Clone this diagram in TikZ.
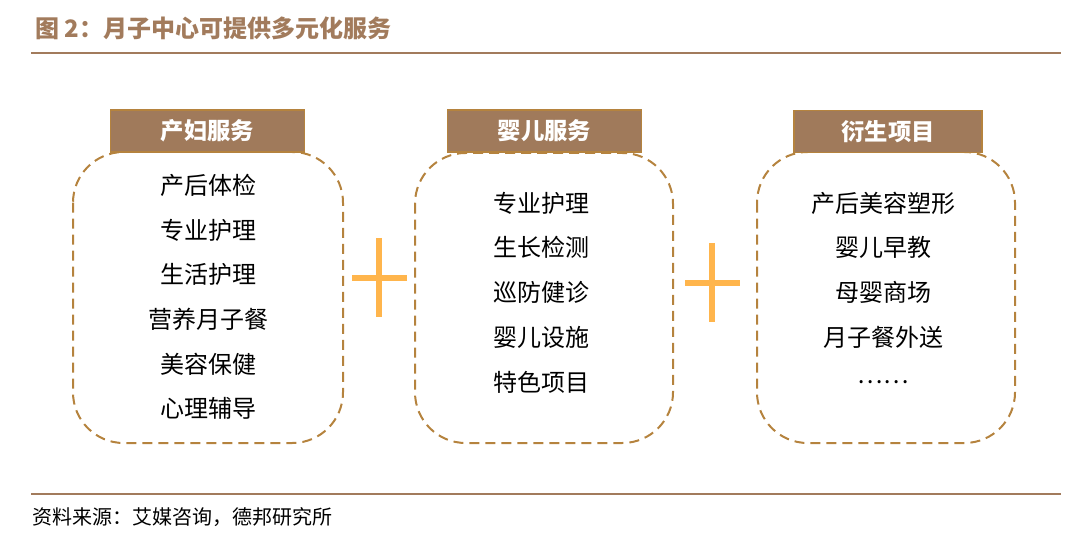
\documentclass[tikz,border=0pt]{standalone}
\usepackage{fontspec}
\setmainfont{Noto Sans CJK SC}
\newfontfamily\cjk{Noto Sans CJK SC}
\definecolor{brownline}{HTML}{A27B5C}
\definecolor{headfill}{HTML}{A07A5B}
\definecolor{dashcol}{HTML}{B5833E}
\definecolor{pluscol}{HTML}{FFB54C}
\begin{document}
\begin{tikzpicture}[x=0.75pt,y=-0.75pt,
  rule/.style={draw=brownline,line width=1.6pt},
  panel/.style={draw=dashcol,line width=1.5pt,dash pattern=on 7.5pt off 4.5pt,rounded corners=38pt},
  header/.style={fill=headfill,draw=dashcol,line width=0.8pt,minimum height=31.5pt,text=white,font=\cjk\bfseries\fontsize{17.5}{20}\selectfont,inner sep=0pt},
  item/.style={font=\cjk\fontsize{18}{20}\selectfont,text=black,inner sep=0pt},
  plusbar/.style={draw=pluscol,line width=4.8pt}]
\useasboundingbox (0,0) rectangle (1081,541);
\node[anchor=west,text=brownline,font=\cjk\bfseries\fontsize{18}{20}\selectfont,inner sep=0pt] (title) at (35,28) {图 2：月子中心可提供多元化服务};
\draw[rule] (31,53) coordinate (r1a) -- (1061,53) coordinate (r1b);
\draw[rule] (31,494) coordinate (r2a) -- (1061,494) coordinate (r2b);
\node[anchor=west,font=\cjk\fontsize{15}{17}\selectfont,inner sep=0pt] (src) at (32,517) {资料来源：艾媒咨询，德邦研究所};
% panels
\draw[panel] (73,152) rectangle (343,443);
\draw[panel] (415,153) rectangle (673,443);
\draw[panel] (757,152) rectangle (1015,443);
% headers
\node[header,minimum width=146pt] (h1) at (207.5,131) {产妇服务};
\node[header,minimum width=146pt] (h2) at (544.5,131) {婴儿服务};
\node[header,minimum width=141pt] (h3) at (888,131.5) {衍生项目};
% items
\node[item] (a1) at (208,185) {产后体检};
\node[item] (a2) at (208,230) {专业护理};
\node[item] (a3) at (208,274) {生活护理};
\node[item] (a4) at (208,319) {营养月子餐};
\node[item] (a5) at (208,364) {美容保健};
\node[item] (a6) at (208,408) {心理辅导};
\node[item] (b1) at (541,203) {专业护理};
\node[item] (b2) at (541,247) {生长检测};
\node[item] (b3) at (541,292) {巡防健诊};
\node[item] (b4) at (541,337) {婴儿设施};
\node[item] (b5) at (541,382) {特色项目};
\node[item] (c1) at (883,203) {产后美容塑形};
\node[item] (c2) at (883,247) {婴儿早教};
\node[item] (c3) at (883,292) {母婴商场};
\node[item] (c4) at (883,337) {月子餐外送};
\node[item] (c5) at (883,382) {……};
% plus signs
\draw[plusbar] (379,238) -- (379,317);
\draw[plusbar] (352,278) -- (407,278);
\draw[plusbar] (712,243) -- (712,322);
\draw[plusbar] (685,283) -- (740,283);
\end{tikzpicture}
\end{document}
